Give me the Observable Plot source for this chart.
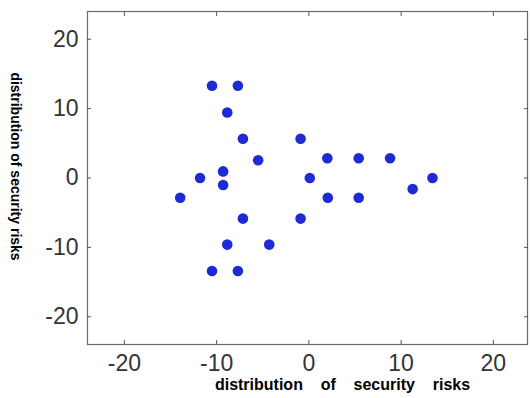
<!DOCTYPE html>
<html>
<head>
<meta charset="utf-8">
<script src="https://cdn.jsdelivr.net/npm/d3@7"></script>
<script src="https://cdn.jsdelivr.net/npm/@observablehq/plot@0.6"></script>
<style>
  html, body { margin: 0; padding: 0; background: #fff; }
  #chart svg { display: block; font-family: "Liberation Sans", Arial, sans-serif; }
</style>
</head>
<body>
<div id="chart"></div>
<script>
// Data
const xs = [-10.5, -7.7, -8.85, -7.15, -0.9, -5.5, 2.0, 5.4, 8.8, -9.3, -9.3, -11.8, 0.1, 13.4, 11.25, -13.95, 2.05, 5.4, -7.15, -0.9, -8.85, -4.3, -10.5, -7.7];
const ys = [13.3, 13.3, 9.45, 5.65, 5.65, 2.55, 2.85, 2.85, 2.85, 0.95, -1.0, 0.0, 0.0, 0.0, -1.6, -2.85, -2.85, -2.85, -5.85, -5.85, -9.6, -9.6, -13.4, -13.4];
const xTicks = [-20, -10, 0, 10, 20];
const yTicks = [-20, -10, 0, 10, 20];
const xLabel = "distribution\u00a0\u00a0\u00a0\u00a0of\u00a0\u00a0\u00a0\u00a0security\u00a0\u00a0\u00a0\u00a0risks";
const yLabel = "distribution of security risks";

const points = xs.map((x, i) => ({x, y: ys[i]}));

const tickColor = "#333";
const fmt = d => String(d);
const none = () => "";
const T = 4; // tick length, drawn inward
const chart = Plot.plot({
  width: 530,
  height: 398,
  marginLeft: 87,
  marginRight: 3,
  marginTop: 11,
  marginBottom: 54,
  x: {domain: [-24, 23.7]},
  y: {domain: [-24, 24]},
  marks: [
    Plot.frame({stroke: "#6a6a6a", strokeWidth: 1.2}),
    // inward tick marks on all four sides
    Plot.axisX(xTicks, {anchor: "bottom", tickSize: T, dy: -T, tickFormat: none, stroke: "#555", label: null}),
    Plot.axisX(xTicks, {anchor: "top", tickSize: T, dy: T, tickFormat: none, stroke: "#555", label: null}),
    Plot.axisY(yTicks, {anchor: "left", tickSize: T, dx: T, tickFormat: none, stroke: "#555", label: null}),
    Plot.axisY(yTicks, {anchor: "right", tickSize: T, dx: -T, tickFormat: none, stroke: "#555", label: null}),
    // tick labels
    Plot.axisX(xTicks, {anchor: "bottom", tickSize: 0, tickPadding: 10, tickFormat: fmt, fontSize: 23, color: tickColor, label: null}),
    Plot.axisY(yTicks, {anchor: "left", tickSize: 0, tickPadding: 9, tickFormat: fmt, fontSize: 23, color: tickColor, label: null}),
    Plot.dot(points, {x: "x", y: "y", r: 5.3, fill: "#1c2bd4", stroke: "none"}),
    Plot.text([xLabel], {frameAnchor: "bottom", textAnchor: "middle", lineAnchor: "middle", dy: 40, dx: 35, fontSize: 16, fontWeight: "bold", fill: "#000"}),
    Plot.text([yLabel], {frameAnchor: "left", textAnchor: "middle", lineAnchor: "middle", rotate: 90, dx: -72, dy: -11.5, fontSize: 14, fontWeight: "bold", fill: "#000"})
  ]
});
document.getElementById("chart").appendChild(chart);
</script>
</body>
</html>
